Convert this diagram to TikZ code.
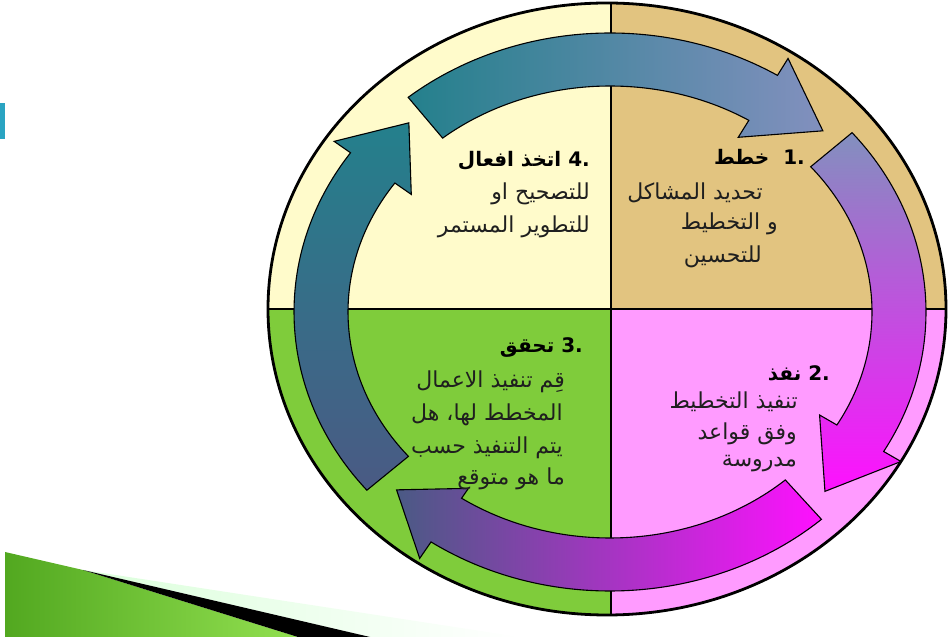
\documentclass[tikz,border=0pt]{standalone}
\usepackage{fontspec}
\newfontfamily\arfont[Script=Arabic]{DejaVu Sans}
\TeXXeTstate=1
\definecolor{tealbar}{HTML}{2AA4C2}
\definecolor{qTL}{HTML}{FFFBCB}
\definecolor{qTR}{HTML}{E2C480}
\definecolor{qBL}{HTML}{7FCC3B}
\definecolor{qBR}{HTML}{FF9BFF}
\definecolor{arTeal}{HTML}{24808C}
\definecolor{arSlate}{HTML}{4A5A84}
\definecolor{arBlue}{HTML}{8290BE}
\definecolor{arMag}{HTML}{FF10FF}
\definecolor{swDark}{HTML}{52A820}
\definecolor{swLight}{HTML}{92E050}
\tikzset{
  arrowline/.style={draw=black, line width=1.1pt, line join=miter},
  artext/.style={font=\arfont\fontsize{22}{26}\selectfont, anchor=east, inner sep=0pt, text=black!88},
  artitle/.style={font=\arfont\bfseries\fontsize{20}{24}\selectfont, anchor=east, inner sep=0pt, text=black},
}
% #1 tail angle, #2 head base angle, #3 head length, #4 inner barb radius offset, #5 shading options
\newcommand\cycArrow[5]{%
  \pgfmathsetmacro\cyTa{#1}\pgfmathsetmacro\cyHb{#2}%
  \pgfmathsetmacro\cyTx{1.1468*sin(\cyHb)}\pgfmathsetmacro\cyTy{-cos(\cyHb)}%
  \pgfmathsetmacro\cyTn{sqrt(\cyTx*\cyTx+\cyTy*\cyTy)}%
  \pgfmathsetmacro\cyUx{\cyTx/\cyTn}\pgfmathsetmacro\cyUy{\cyTy/\cyTn}%
  \draw[arrowline,#5] ({610+316*cos(\cyTa)},{325+279*sin(\cyTa)})
     arc[start angle=\cyTa, end angle=\cyHb, x radius=316, y radius=279]
     -- ({610+336*cos(\cyHb)},{325+299*sin(\cyHb)})
     -- ({610+289*cos(\cyHb)+#3*\cyUx},{325+252*sin(\cyHb)+#3*\cyUy})
     -- ({610+(262-#4)*cos(\cyHb)},{325+(226-#4)*sin(\cyHb)})
     -- ({610+262*cos(\cyHb)},{325+226*sin(\cyHb)})
     arc[start angle=\cyHb, end angle=\cyTa, x radius=262, y radius=226]
     -- cycle;}
\begin{document}
\begin{tikzpicture}[x=1pt,y=1pt]
\useasboundingbox (0,0) rectangle (948,637);
% left bar
\fill[tealbar] (0,498) rectangle (5,534);
% bottom-left swoosh
\shade[left color=green!14, right color=white] (83,67) -- (520,0) -- (370,0) -- cycle;
\shade[left color=swDark, right color=swLight] (5,85) -- (83,67) -- (298,0) -- (5,0) -- cycle;
\fill[black] (83,67) -- (370,0) -- (298,0) -- cycle;
% quadrants
\coordinate (C) at (607,328);
\begin{scope}
  \clip (C) ellipse [x radius=339, y radius=306];
  \fill[qTL] (200,328) rectangle (611,700);
  \fill[qTR] (611,328) rectangle (1000,700);
  \fill[qBL] (200,-10) rectangle (611,328);
  \fill[qBR] (611,-10) rectangle (1000,328);
\end{scope}
\coordinate (ctop) at (611,634);
\coordinate (cbot) at (611,22);
\coordinate (cleft) at (268,328);
\coordinate (cright) at (946,328);
\draw[line width=2pt] (ctop) -- (cbot);
\draw[line width=2pt] (cleft) -- (cright);
\draw[line width=2.8pt] (C) ellipse [x radius=339, y radius=306];
% arrows
\cycArrow{219.7}{145.2}{58}{20}{top color=arTeal, bottom color=arSlate}
\cycArrow{-48}{-124.5}{58}{12}{left color=arSlate, right color=arMag}
\cycArrow{40}{-30}{64}{20}{top color=arBlue, bottom color=arMag}
\cycArrow{129.7}{58}{68}{20}{left color=arTeal, right color=arBlue}
% texts quadrant 1
\node[artitle] (t1) at (805,480) {\beginR خطط\endR\ \ .1};
\node[artext] (t1a) at (763,444) {\beginR تحديد المشاكل\endR};
\node[artext] (t1b) at (778,413) {\beginR و التخطيط\endR};
\node[artext] (t1c) at (762,380) {\beginR للتحسين\endR};
% quadrant 4
\node[artitle] (t4) at (590,476) {\beginR اتخذ افعال\endR\ .4};
\node[artext] (t4a) at (590,443) {\beginR للتصحيح او\endR};
\node[artext] (t4b) at (590,410) {\beginR للتطوير المستمر\endR};
% quadrant 2
\node[artitle] (t2) at (830,264) {\beginR نفذ\endR\ .2};
\node[artext] (t2a) at (798,235) {\beginR تنفيذ التخطيط\endR};
\node[artext] (t2b) at (797,203) {\beginR وفق قواعد\endR};
\node[artext] (t2c) at (797,173) {\beginR مدروسة\endR};
% quadrant 3
\node[artitle] (t3) at (583,289) {\beginR تحقق\endR\ .3};
\node[artext] (t3a) at (565,255) {\beginR قِم تنفيذ الاعمال\endR};
\node[artext] (t3b) at (563,222) {\beginR المخطط لها، هل\endR};
\node[artext] (t3c) at (563,189) {\beginR يتم التنفيذ حسب\endR};
\node[artext] (t3d) at (565,158) {\beginR ما هو متوقع\endR};
\end{tikzpicture}
\end{document}
